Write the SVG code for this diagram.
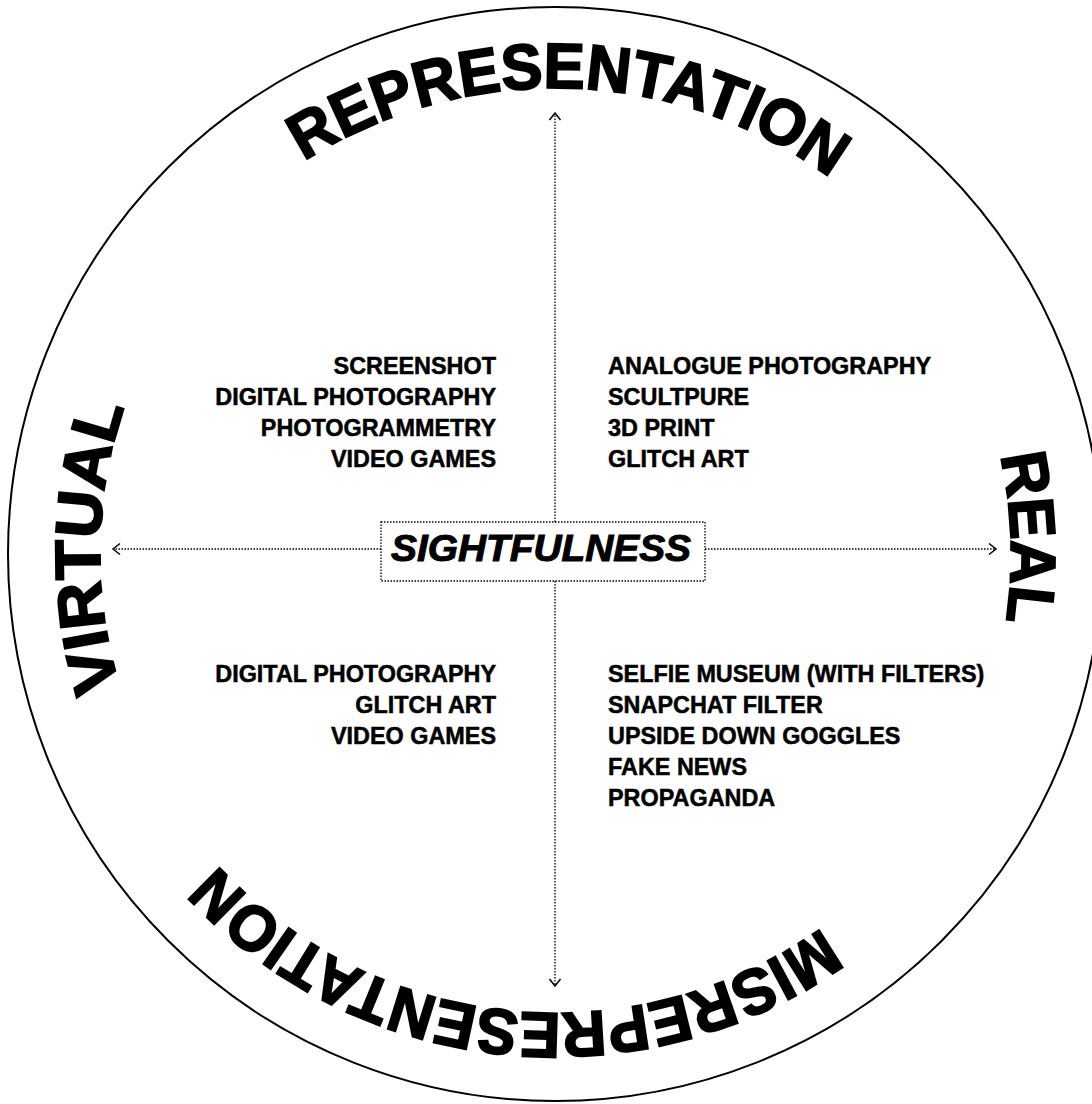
<svg xmlns="http://www.w3.org/2000/svg" width="1092" height="1104" viewBox="0 0 1092 1104">
<style>
.item{font-family:"Liberation Sans",Arial,sans-serif;font-weight:bold;font-size:23.4px;fill:#000;stroke:#000;stroke-width:0.5}
.big{font-family:"Liberation Sans",Arial,sans-serif;font-weight:bold;font-size:64px;fill:#000;stroke:#000;stroke-width:2}
.axis{stroke:#000;stroke-width:1.3;stroke-dasharray:1.5 1.5;fill:none}
</style>
<defs>
<marker id="chev" viewBox="-10 -7 12 14" markerWidth="12" markerHeight="14" refX="0" refY="0" orient="auto" markerUnits="userSpaceOnUse">
<path d="M-7,-5.5 L0,0 L-7,5.5" fill="none" stroke="#000" stroke-width="1.5"/>
</marker>
<path id="arcTop" d="M89,554 A466,466 0 0 1 1021,554"/>
<path id="arcBottom" d="M1014,554 A459,459 0 0 1 96,554"/>
<path id="arcLeft" d="M555,1009 A455,455 0 0 1 555,99"/>
<path id="arcRight" d="M555,98 A456,456 0 0 1 555,1010"/>
</defs>
<rect width="1092" height="1104" fill="#fff"/>
<g id="outer-circle">
<circle cx="555" cy="554" r="547" fill="none" stroke="#000" stroke-width="2"/>
</g>
<g id="connectors">
<line class="axis" x1="555" y1="522" x2="555" y2="113" marker-end="url(#chev)"/>
<line class="axis" x1="555" y1="581" x2="555" y2="986" marker-end="url(#chev)"/>
<line class="axis" x1="381" y1="549" x2="113" y2="549" marker-end="url(#chev)"/>
<line class="axis" x1="705" y1="549" x2="996" y2="549" marker-end="url(#chev)"/>
</g>
<g id="center">
<rect x="381" y="522" width="324" height="59" fill="#fff" class="axis"/>
<text x="541" y="561" text-anchor="middle" textLength="300" lengthAdjust="spacingAndGlyphs" style="font-family:'Liberation Sans',Arial,sans-serif;font-weight:bold;font-style:italic;font-size:36px;stroke:#000;stroke-width:1">SIGHTFULNESS</text>
</g>
<g id="label-representation">
<text class="big"><textPath href="#arcTop" startOffset="51%" text-anchor="middle" textLength="560" lengthAdjust="spacingAndGlyphs">REPRESENTATION</textPath></text>
</g>
<g id="label-misrepresentation">
<text class="big"><textPath href="#arcBottom" startOffset="53.3%" text-anchor="middle" textLength="665" lengthAdjust="spacingAndGlyphs">MISREPRESENTATION</textPath></text>
</g>
<g id="label-virtual">
<text class="big"><textPath href="#arcLeft" startOffset="50.5%" text-anchor="middle" textLength="285" lengthAdjust="spacingAndGlyphs">VIRTUAL</textPath></text>
</g>
<g id="label-real">
<text class="big"><textPath href="#arcRight" startOffset="48.9%" text-anchor="middle" textLength="167" lengthAdjust="spacingAndGlyphs">REAL</textPath></text>
</g>
<g id="quadrant-top-left">
<text class="item" x="496" y="374" text-anchor="end">SCREENSHOT</text>
<text class="item" x="496" y="405" text-anchor="end">DIGITAL PHOTOGRAPHY</text>
<text class="item" x="496" y="436" text-anchor="end">PHOTOGRAMMETRY</text>
<text class="item" x="496" y="467" text-anchor="end">VIDEO GAMES</text>
</g>
<g id="quadrant-top-right">
<text class="item" x="608" y="374">ANALOGUE PHOTOGRAPHY</text>
<text class="item" x="608" y="405">SCULTPURE</text>
<text class="item" x="608" y="436">3D PRINT</text>
<text class="item" x="608" y="467">GLITCH ART</text>
</g>
<g id="quadrant-bottom-left">
<text class="item" x="496" y="682" text-anchor="end">DIGITAL PHOTOGRAPHY</text>
<text class="item" x="496" y="713" text-anchor="end">GLITCH ART</text>
<text class="item" x="496" y="744" text-anchor="end">VIDEO GAMES</text>
</g>
<g id="quadrant-bottom-right">
<text class="item" x="608" y="682">SELFIE MUSEUM (WITH FILTERS)</text>
<text class="item" x="608" y="713">SNAPCHAT FILTER</text>
<text class="item" x="608" y="744">UPSIDE DOWN GOGGLES</text>
<text class="item" x="608" y="775">FAKE NEWS</text>
<text class="item" x="608" y="806">PROPAGANDA</text>
</g>
</svg>
